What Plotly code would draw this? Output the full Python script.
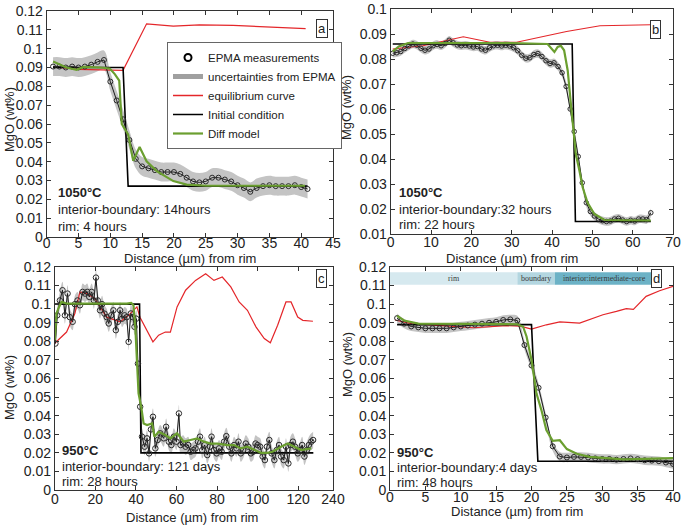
import plotly.graph_objects as go

W, H = 685, 526

# ---------------- Panel a (1050°C, 14 h / 4 h) ----------------
a_x = list(range(1, 42))
a_y = [0.0905, 0.0905, 0.0900, 0.0905, 0.0900, 0.0905, 0.0915, 0.0930, 0.0940, 0.0825,
       0.0725, 0.0625, 0.0515, 0.0415, 0.0375, 0.0365, 0.0355, 0.0345, 0.0345, 0.0345,
       0.0335, 0.0315, 0.0295, 0.0290, 0.0295, 0.0315, 0.0315, 0.0305, 0.0295, 0.0275,
       0.0260, 0.0240, 0.0260, 0.0270, 0.0275, 0.0270, 0.0270, 0.0270, 0.0275, 0.0265, 0.0255]
a_unc = 0.005
a_eq_x = [1, 5, 12, 12.8, 13.6, 14.7, 15.7, 19.9, 24, 29.3, 34.6, 40.7]
a_eq_y = [0.0905, 0.0890, 0.0885, 0.0940, 0.0993, 0.1062, 0.1132, 0.1120, 0.1126, 0.1124, 0.1116, 0.1106]
a_init_x = [1, 12, 12.8, 41]
a_init_y = [0.090, 0.090, 0.027, 0.027]
a_mod_x = [1, 3.1, 4.7, 5.8, 8.4, 9.9, 10.7, 11.4, 11.8, 12.8, 13.6, 14.6, 15.7, 17.3, 19.9, 22, 25.1, 40.6]
a_mod_y = [0.0932, 0.0900, 0.0888, 0.0903, 0.0900, 0.0895, 0.0865, 0.0830, 0.0600, 0.0545, 0.0405,
           0.0478, 0.0402, 0.0350, 0.0297, 0.0278, 0.0272, 0.0272]

# ---------------- Panel b (1050°C, 32 h / 22 h) ----------------
b_x = [0.5 + i for i in range(65)]
b_y = [0.0823, 0.0825, 0.0830, 0.0842, 0.0852, 0.0860, 0.0855, 0.0843, 0.0835, 0.0840,
       0.0853, 0.0858, 0.0853, 0.0862, 0.0875, 0.0865, 0.0856, 0.0853, 0.0855, 0.0852,
       0.0848, 0.0850, 0.0840, 0.0835, 0.0845, 0.0853, 0.0855, 0.0852, 0.0855, 0.0852,
       0.0845, 0.0833, 0.0815, 0.0803, 0.0805, 0.0818, 0.0822, 0.0810, 0.0793, 0.0782,
       0.0785, 0.0770, 0.0745, 0.0690, 0.0600, 0.0510, 0.0410, 0.0305, 0.0225, 0.0190,
       0.0172, 0.0160, 0.0153, 0.0150, 0.0152, 0.0160, 0.0163, 0.0156, 0.0150, 0.0155,
       0.0152, 0.0160, 0.0160, 0.0158, 0.0185]
b_unc = 0.0017
b_eq_x = [0.5, 8, 18, 24.6, 31.2, 38.6, 43.6, 51.9, 64.5]
b_eq_y = [0.0840, 0.0853, 0.0889, 0.0867, 0.0867, 0.0893, 0.0910, 0.0933, 0.0937]
b_init_x = [0.5, 45, 45.8, 64.5]
b_init_y = [0.086, 0.086, 0.015, 0.015]
b_mod_x = [0.5, 2, 4.3, 10, 20, 30, 38.9, 40.6, 41.4, 42.2, 43.0, 43.9, 44.6, 45.1, 45.9, 46.8,
           47.6, 48.8, 50.5, 53, 64.5]
b_mod_y = [0.0830, 0.0850, 0.0864, 0.0864, 0.0864, 0.0864, 0.0860, 0.0828, 0.0848, 0.0853, 0.0835,
           0.0753, 0.0633, 0.0553, 0.0420, 0.0353, 0.0287, 0.0226, 0.0180, 0.0156, 0.0154]

# ---------------- Panel c (950°C, 121 days / 28 h) ----------------
c_x = [0.3, 1.2, 2.5, 3.8, 5, 6.3, 7.4, 8.8, 9.9, 11.2, 12.4, 13.7, 14.9, 16, 17, 18.2, 19.3,
       20.3, 21.2, 22.3, 23.3, 24.5, 25.6, 26.6, 27.8, 28.9, 30.1, 31.1, 32.2, 33.2, 34.4, 35.5,
       36.4, 37.5, 38.5, 39.3, 40.2, 41, 42.1,
       43, 44.3, 45.5, 46.5, 47.4, 48.4, 49.6, 50.7, 52, 53.7, 54.9, 56.2, 57.5, 58.7, 60, 61.2,
       62, 63.3, 64.5, 65.8, 67, 68.3, 69.4, 70.6, 71.6, 72.7, 73.9, 75.2, 76.5, 77.3, 78.5, 79.8,
       81, 82.3, 83.5, 84.6, 86, 87.1, 88.4, 89.6, 90.6, 91.7, 92.9, 94.2, 95.4, 96.7, 97.8, 99,
       100, 101.3, 102.5, 103.6, 104.6, 105.8, 106.9, 108.3, 109.4, 110.6, 111.6, 112.9, 114,
       115.2, 116.2, 117.4, 118.5, 119.8, 121, 122, 123.1, 124.3, 125.3, 126.5, 127.4]
c_y = [0.0788, 0.0940, 0.1020, 0.1075, 0.0940, 0.1057, 0.0930, 0.0905, 0.1000, 0.1020, 0.0994,
       0.1066, 0.1057, 0.1066, 0.1039, 0.1066, 0.1020, 0.1143, 0.1020, 0.0967, 0.1000, 0.0949,
       0.0930, 0.0896, 0.0940, 0.0967, 0.0860, 0.0905, 0.0967, 0.0922, 0.0940, 0.0930, 0.0797,
       0.0950, 0.0930, 0.0878, 0.0922, 0.0680, 0.0448,
       0.0287, 0.0233, 0.0278, 0.0197, 0.0326, 0.0394, 0.0224, 0.0269, 0.0305, 0.0278, 0.0340,
       0.0260, 0.0242, 0.0287, 0.0260, 0.0412, 0.0242, 0.0250, 0.0233, 0.0242, 0.0206, 0.0215,
       0.0224, 0.0260, 0.0287, 0.0215, 0.0242, 0.0188, 0.0233, 0.0287, 0.0215, 0.0197, 0.0224,
       0.0206, 0.0260, 0.0290, 0.0233, 0.0197, 0.0242, 0.0224, 0.0260, 0.0197, 0.0215, 0.0250,
       0.0233, 0.0197, 0.0206, 0.0250, 0.0242, 0.0233, 0.0180, 0.0161, 0.0233, 0.0269, 0.0197,
       0.0161, 0.0215, 0.0242, 0.0180, 0.0161, 0.0233, 0.0143, 0.0242, 0.0260, 0.0233, 0.0197,
       0.0215, 0.0242, 0.0180, 0.0215, 0.0242, 0.0260, 0.0269]
c_unc = 0.0045
c_eq_x = [0, 5.8, 9.9, 12.4, 15.7, 19.8, 25.6, 32.2, 36.4, 40.5, 42, 45.5, 48.4, 51.2, 54.5, 57,
          60.3, 64.5, 69.4, 74.4, 78.5, 82.6, 86.8, 90.9, 95, 99.2, 103.3, 106.3, 109.9, 114,
          116.5, 119.8, 122.3, 127.3]
c_eq_y = [0.0790, 0.0850, 0.0950, 0.1066, 0.1057, 0.1030, 0.0930, 0.0905, 0.0940, 0.0985, 0.0930,
          0.0860, 0.0797, 0.0833, 0.0850, 0.0850, 0.0985, 0.1075, 0.1128, 0.1164, 0.1128, 0.1146,
          0.1093, 0.1012, 0.0967, 0.0878, 0.0815, 0.0792, 0.0887, 0.1012, 0.1012, 0.0931, 0.0913, 0.0908]
c_init_x = [0, 41.8, 42.5, 127.5]
c_init_y = [0.100, 0.100, 0.020, 0.020]
c_mod_x = [0, 0.8, 2.1, 3.3, 5.8, 9.9, 15.7, 25, 35.5, 37.7, 38.8, 39.7, 40.5, 41.3, 42.6, 43.8,
           45.5, 48, 49.1, 51.2, 54.5, 57, 60.3, 63.6, 66.9, 70.2, 73.6, 76.9, 80.2, 85.1, 88.4,
           91.7, 95, 98.4, 101.7, 104.9, 107.4, 111.6, 114.9, 118.2, 121.5, 126.5]
c_mod_y = [0.0806, 0.0950, 0.0985, 0.1012, 0.1003, 0.1003, 0.1000, 0.1000, 0.1003, 0.1007, 0.0994,
           0.0878, 0.0680, 0.0520, 0.0448, 0.0358, 0.0350, 0.0358, 0.0287, 0.0313, 0.0296, 0.0278,
           0.0305, 0.0260, 0.0269, 0.0278, 0.0260, 0.0250, 0.0250, 0.0242, 0.0242, 0.0224, 0.0233,
           0.0215, 0.0200, 0.0200, 0.0206, 0.0233, 0.0250, 0.0233, 0.0215, 0.0224]

# ---------------- Panel d (950°C, 4 days / 48 h) ----------------
d_x = list(range(1, 41))
d_y = [0.0925, 0.0895, 0.0880, 0.0875, 0.0870, 0.0870, 0.0870, 0.0870, 0.0875, 0.0880,
       0.0885, 0.0890, 0.0895, 0.0900, 0.0905, 0.0915, 0.0918, 0.0912, 0.0780, 0.0670,
       0.0550, 0.0390, 0.0235, 0.0180, 0.0175, 0.0178, 0.0178, 0.0175, 0.0170, 0.0167,
       0.0167, 0.0163, 0.0167, 0.0170, 0.0166, 0.0160, 0.0158, 0.0155, 0.0148, 0.0140]
d_unc = 0.0025
d_eq_x = [0.7, 3, 11.8, 16.5, 18.4, 20, 22.1, 24, 26.8, 30.1, 32, 33.4, 34.4, 36.2, 38.1, 40]
d_eq_y = [0.0915, 0.0895, 0.0873, 0.0884, 0.0882, 0.0866, 0.0889, 0.0905, 0.0898, 0.0943, 0.0961,
          0.0976, 0.0972, 0.1042, 0.1072, 0.1096]
d_init_x = [1, 20, 20.9, 40]
d_init_y = [0.089, 0.089, 0.0155, 0.0155]
d_mod_x = [1, 2, 4, 10, 17, 18, 18.8, 19.3, 20, 20.7, 21.4, 22.1, 23, 24, 25, 26.4, 28.2, 30.6,
           33, 36, 40]
d_mod_y = [0.0937, 0.0912, 0.0895, 0.0893, 0.0893, 0.0892, 0.0880, 0.0826, 0.0700, 0.0520, 0.0430,
           0.0323, 0.0265, 0.0268, 0.0220, 0.0195, 0.0178, 0.0170, 0.0165, 0.0168, 0.0172]
d_zone_names = ["rim", "boundary", "interior:intermediate-core"]
d_zone_start = [0, 18, 23.3]
d_zone_end = [18, 23.3, 37.2]
d_zone_ylo, d_zone_yhi = 0.1105, 0.1172

# ---------------- helpers ----------------
def xdom(p0, p1):
    return [p0 / W, p1 / W]

def ydom(p0, p1):
    return [1 - p1 / H, 1 - p0 / H]

def fmt(v):
    return f"{v:g}"

BAND = "rgb(196,196,196)"
RED = "#e4262a"
GREEN = "#6b9f30"
FONT = "Liberation Sans, Arial, sans-serif"

fig = go.Figure()

panels = [
    dict(xa="x", ya="y", x=a_x, y=a_y, u=a_unc, ex=a_eq_x, ey=a_eq_y, ix=a_init_x, iy=a_init_y,
         mx=a_mod_x, my=a_mod_y, ms=5),
    dict(xa="x2", ya="y2", x=b_x, y=b_y, u=b_unc, ex=b_eq_x, ey=b_eq_y, ix=b_init_x, iy=b_init_y,
         mx=b_mod_x, my=b_mod_y, ms=4.5),
    dict(xa="x3", ya="y3", x=c_x, y=c_y, u=c_unc, ex=c_eq_x, ey=c_eq_y, ix=c_init_x, iy=c_init_y,
         mx=c_mod_x, my=c_mod_y, ms=5.5),
    dict(xa="x4", ya="y4", x=d_x, y=d_y, u=d_unc, ex=d_eq_x, ey=d_eq_y, ix=d_init_x, iy=d_init_y,
         mx=d_mod_x, my=d_mod_y, ms=5),
]

for p in panels:
    lo = [v - p["u"] for v in p["y"]]
    hi = [v + p["u"] for v in p["y"]]
    common = dict(xaxis=p["xa"], yaxis=p["ya"], showlegend=False, hoverinfo="skip")
    fig.add_trace(go.Scatter(x=p["x"], y=lo, mode="lines", line=dict(width=0, color=BAND,
                                                                     shape="spline"), **common))
    fig.add_trace(go.Scatter(x=p["x"], y=hi, mode="lines", fill="tonexty", fillcolor=BAND,
                             line=dict(width=0, color=BAND, shape="spline"), **common))
    fig.add_trace(go.Scatter(x=p["ex"], y=p["ey"], mode="lines", line=dict(color=RED, width=1.2),
                             **common))
    fig.add_trace(go.Scatter(x=p["ix"], y=p["iy"], mode="lines", line=dict(color="black", width=1.6),
                             **common))
    fig.add_trace(go.Scatter(x=p["x"], y=p["y"], mode="lines+markers",
                             line=dict(color="#1a1a1a", width=1),
                             marker=dict(symbol="circle-open", size=p["ms"], color="#2a2a2a",
                                         line=dict(width=1)), **common))
    fig.add_trace(go.Scatter(x=p["mx"], y=p["my"], mode="lines", line=dict(color=GREEN, width=2.2),
                             **common))

# legend entries (panel a)
leg = dict(xaxis="x", yaxis="y", x=[None], y=[None])
fig.add_trace(go.Scatter(name="EPMA measurements", mode="markers",
                         marker=dict(symbol="circle-open", size=7, color="black", line=dict(width=2)), **leg))
fig.add_trace(go.Scatter(name="uncertainties from EPMA", mode="lines",
                         line=dict(color="rgb(160,160,160)", width=5), **leg))
fig.add_trace(go.Scatter(name="equilibrium curve", mode="lines", line=dict(color=RED, width=1.5), **leg))
fig.add_trace(go.Scatter(name="Initial condition", mode="lines", line=dict(color="black", width=1.5), **leg))
fig.add_trace(go.Scatter(name="Diff model", mode="lines", line=dict(color=GREEN, width=2.2), **leg))

yt012 = [i / 100 for i in range(13)]
yt_b = [i / 100 for i in range(1, 11)]

axis_common = dict(showgrid=False, zeroline=False, showline=True, linecolor="#333", linewidth=1,
                   mirror="ticks", ticks="inside", ticklen=4, tickcolor="#333", automargin=False,
                   tickfont=dict(size=14, color="#222", family=FONT))

a_xt = list(range(0, 50, 5))
b_xt = list(range(0, 80, 10))
c_xt = [0, 20, 40, 60, 80, 100, 120, 137.2]
c_xtt = ["0", "20", "40", "60", "80", "100", "120", "240"]
d_xt = list(range(0, 45, 5))

fig.update_layout(
    width=W, height=H, margin=dict(l=0, r=0, t=0, b=0, autoexpand=False),
    paper_bgcolor="white", plot_bgcolor="white",
    font=dict(family=FONT, color="#222"),
    xaxis=dict(domain=xdom(46.7, 333), range=[0, 45], anchor="y", tickvals=a_xt,
               ticktext=[fmt(v) for v in a_xt], ticklabelstandoff=-7, **axis_common),
    yaxis=dict(domain=ydom(11, 237), range=[0, 0.12], anchor="x", tickvals=yt012,
               ticktext=[fmt(v) for v in yt012], **axis_common),
    xaxis2=dict(domain=xdom(390.7, 673), range=[0, 70], anchor="y2", tickvals=b_xt,
                ticktext=[fmt(v) for v in b_xt], ticklabelstandoff=-5, **axis_common),
    yaxis2=dict(domain=ydom(9, 234), range=[0.01, 0.1], anchor="x2", tickvals=yt_b,
                ticktext=[fmt(v) for v in yt_b], **axis_common),
    xaxis3=dict(domain=xdom(54.8, 333), range=[0, 137.2], anchor="y3", tickvals=c_xt,
                ticktext=c_xtt, ticklabelstandoff=-4, **axis_common),
    yaxis3=dict(domain=ydom(267, 490), range=[0, 0.12], anchor="x3", tickvals=yt012,
                ticktext=[fmt(v) for v in yt012], **axis_common),
    xaxis4=dict(domain=xdom(390, 673), range=[0, 40], anchor="y4", tickvals=d_xt,
                ticktext=[fmt(v) for v in d_xt], ticklabelstandoff=-6, **axis_common),
    yaxis4=dict(domain=ydom(267, 490), range=[0, 0.12], anchor="x4", tickvals=yt012,
                ticktext=[fmt(v) for v in yt012], **axis_common),
    legend=dict(x=167 / W, y=1 - 42 / H, xanchor="left", yanchor="top", bgcolor="white",
                bordercolor="#666", borderwidth=1, font=dict(size=11.5, color="#222", family=FONT),
                tracegroupgap=0, traceorder="normal", itemwidth=30),
)

annotations = []

def txt(x, y, s, size=13, **kw):
    annotations.append(dict(x=x / W, y=1 - y / H, xref="paper", yref="paper", text=s,
                            showarrow=False, font=dict(size=size, color="#222", family=FONT), **kw))

# condition texts
for (x0, ys, temp, l1, l2) in [
    (56, (193, 210, 226), "1050°C", "interior-boundary: 14hours", "rim: 4 hours"),
    (397, (193, 209, 225), "1050°C", "interior-boundary:32 hours", "rim: 22 hours"),
    (60, (450, 466, 481), "950°C", "interior-boundary: 121 days", "rim: 28 hours"),
    (395, (452, 467, 482), "950°C", "interior-boundary:4 days", "rim: 48 hours"),
]:
    txt(x0, ys[0], "<b>" + temp + "</b>", xanchor="left", yanchor="middle")
    txt(x0, ys[1], l1, xanchor="left", yanchor="middle")
    txt(x0, ys[2], l2, xanchor="left", yanchor="middle")

# axis titles
for (x, y) in [(190, 258), (512, 258), (192, 517), (517, 511)]:
    txt(x, y, "Distance (µm) from rim", size=13, xanchor="center", yanchor="middle")
for (x, y) in [(10, 120), (347, 108), (9, 388), (347, 365)]:
    txt(x, y, "MgO (wt%)", size=13, xanchor="center", yanchor="middle", textangle=-90)

# panel letters
for (x, y, s) in [(321.5, 19, "a"), (661, 20, "b"), (321.5, 278, "c"), (662, 278, "d")]:
    annotations.append(dict(x=x / W, y=1 - y / H, xref="paper", yref="paper", text=s,
                            showarrow=False, bgcolor="white", bordercolor="#333", borderwidth=1,
                            borderpad=1, font=dict(size=13, color="#222", family=FONT)))

# zone labels in panel d
zone_colors = ["#d6e9ef", "#b3d6e0", "#6cb2c6"]
shapes = []
for name, s0, s1, col in zip(d_zone_names, d_zone_start, d_zone_end, zone_colors):
    shapes.append(dict(type="rect", xref="x4", yref="y4", x0=s0, x1=s1, y0=d_zone_ylo, y1=d_zone_yhi,
                       fillcolor=col, line=dict(width=0), layer="below"))
    annotations.append(dict(x=(s0 + s1) / 2, y=(d_zone_ylo + d_zone_yhi) / 2, xref="x4", yref="y4",
                            text=name, showarrow=False,
                            font=dict(size=8, color="#3a3a3a", family="Liberation Serif, serif")))

fig.update_layout(annotations=annotations, shapes=shapes)

fig.write_html("out.html", config={"displayModeBar": False},
               post_script="document.body.style.margin='0';document.body.style.padding='0';")
